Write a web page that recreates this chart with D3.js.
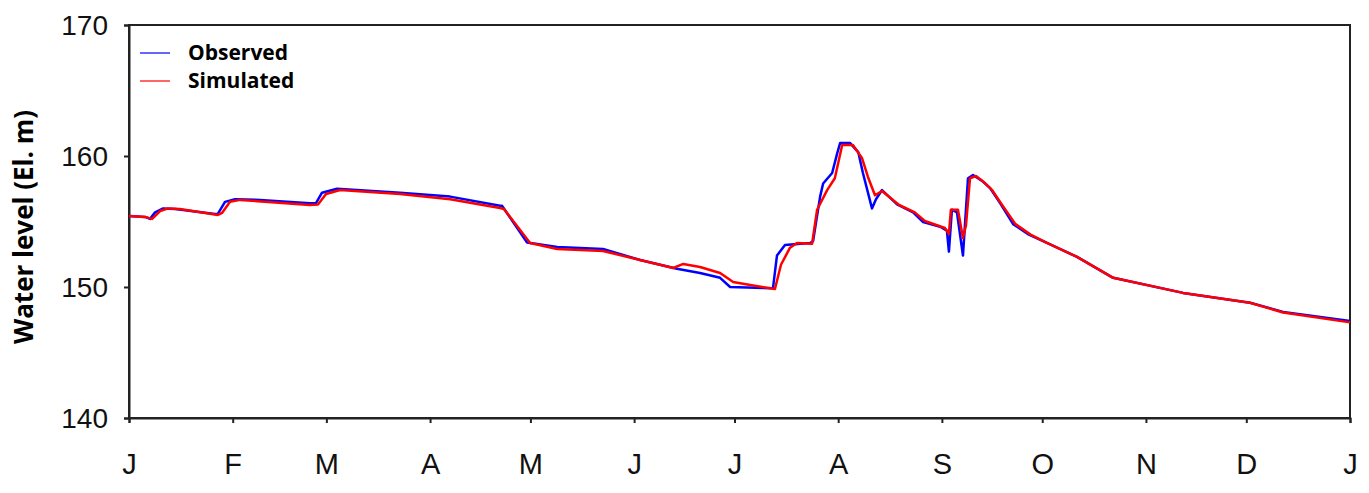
<!DOCTYPE html>
<html>
<head>
<meta charset="utf-8">
<script src="https://cdn.jsdelivr.net/npm/d3@7/dist/d3.min.js"></script>
<style>
    body { margin: 0; background: #fff; }
    .tick text { font-family: "Liberation Sans", Arial, sans-serif; fill: #111; }
    .bold { font-family: "Open Sans", sans-serif; font-weight: bold; }
</style>
</head>
<body>
<div id="content"></div>
<script>
// day of year and water level (El. m)
var obsDay = [0, 4.8, 6.3, 7.8, 10.2, 13.8, 25.7, 26.6, 28.7, 31.7, 39.2, 54.1, 55.9, 57.7, 62.2, 81, 96,
    110.9, 111.5, 119, 128, 141.7, 152.8, 163.8, 170.7, 176.7, 179.7, 192.5, 193.7, 196.1, 203.6,
    204.5, 206.6, 207.5, 210.2, 211.7, 212.6, 215.5, 218, 219.4, 222.1, 223.3, 225.1, 229.6, 234.4,
    237.4, 242.5, 244.5, 245.1, 246, 247.5, 249.3, 250.8, 252.3, 255, 257.4, 260.4, 264.3, 269, 274.4,
    283.4, 294.2, 315.1, 335.1, 345, 365];
var obsLevel = [155.42, 155.35, 155.2, 155.7, 156.0, 155.95, 155.57, 155.6, 156.5, 156.7, 156.65, 156.4,
    156.4, 157.2, 157.5, 157.2, 156.9, 156.2, 156.2, 153.4, 153.05, 152.9, 152.06, 151.4, 151.07, 150.7,
    150.0, 149.9, 152.4, 153.2, 153.36, 153.5, 156.9, 157.9, 158.7, 160.2, 161.0, 161.0, 160.3, 158.7,
    156.0, 156.7, 157.4, 156.3, 155.7, 154.96, 154.6, 154.3, 152.7, 155.9, 155.7, 152.4, 158.3, 158.55,
    158.1, 157.56, 156.4, 154.8, 154.0, 153.36, 152.3, 150.7, 149.55, 148.8, 148.1, 147.4];

var simDay = [0, 4.8, 6.9, 9.3, 11.7, 15.2, 26.6, 27.8, 30.2, 33.2, 54.1, 56.5, 58.9, 63.1, 81, 96,
    110.9, 112.1, 119.9, 128, 141.7, 152.8, 162.7, 165.7, 170.7, 176.7, 180.6, 185.7, 193.1, 194.9,
    197.6, 199.7, 204.2, 205.7, 208.7, 211, 213.2, 216.4, 219.1, 220.9, 223, 225.1, 230.2, 234.9,
    237.9, 243.9, 245.1, 245.7, 247.8, 249.3, 250.2, 251.4, 253.2, 255.6, 258, 261, 265, 269.5, 274.4,
    283.4, 294.2, 315.1, 335.1, 345, 365];
var simLevel = [155.42, 155.35, 155.2, 155.8, 156.0, 155.95, 155.5, 155.65, 156.5, 156.65, 156.26, 156.3,
    157.1, 157.4, 157.1, 156.7, 156.03, 155.95, 153.36, 152.9, 152.75, 152.06, 151.45, 151.76, 151.53,
    151.07, 150.38, 150.15, 149.85, 151.7, 153.0, 153.36, 153.3, 155.9, 157.4, 158.3, 160.84, 160.84,
    159.85, 158.4, 157.0, 157.33, 156.26, 155.7, 155.04, 154.5, 154.05, 155.9, 155.9, 153.74, 154.7,
    158.3, 158.47, 158.0, 157.4, 156.26, 154.8, 154.0, 153.36, 152.3, 150.7, 149.55, 148.8, 148.05, 147.3];

var monthStart = [0, 31, 59, 90, 120, 151, 181, 212, 243, 273, 304, 334, 365];
var monthLabels = ["J", "F", "M", "A", "M", "J", "J", "A", "S", "O", "N", "D", "J"];
var levelTicks = [140, 150, 160, 170];
var seriesNames = ["Observed", "Simulated"];
var seriesColors = ["#0000ff", "#ff0000"];

var margin = { top: 25, right: 19, bottom: 75, left: 129 };
var fullWidth = 1369, fullHeight = 493;
var width = fullWidth - margin.left - margin.right;
var height = fullHeight - margin.top - margin.bottom;

var svg = d3.select("#content").append("svg")
    .attr("width", fullWidth)
    .attr("height", fullHeight);
var g = svg.append("g")
    .attr("transform", "translate(" + margin.left + "," + margin.top + ")");

var x = d3.scaleLinear().domain([0, 365]).range([0, width]);
var y = d3.scaleLinear().domain([140, 170]).range([height, 0]);

var xAxis = d3.axisBottom(x).tickValues(monthStart)
    .tickFormat(function (d, i) { return monthLabels[i]; })
    .tickSize(5).tickPadding(30);
var yAxis = d3.axisLeft(y).tickValues(levelTicks).tickFormat(d3.format("d"))
    .tickSize(5).tickPadding(16);

// frame
g.append("rect")
    .attr("width", width).attr("height", height)
    .attr("fill", "none").attr("stroke", "#222").attr("stroke-width", 2);

g.append("g")
    .attr("transform", "translate(0," + height + ")")
    .call(xAxis)
    .call(function (a) {
        a.select(".domain").attr("stroke", "#222").attr("stroke-width", 2);
        a.selectAll(".tick line").attr("stroke", "#222").attr("stroke-width", 2);
        a.selectAll(".tick text").style("font-size", "29px");
    });

g.append("g")
    .call(yAxis)
    .call(function (a) {
        a.select(".domain").attr("stroke", "#222").attr("stroke-width", 2);
        a.selectAll(".tick line").attr("stroke", "#222").attr("stroke-width", 2);
        a.selectAll(".tick text").style("font-size", "28px").attr("dy", "0.35em");
    });

svg.append("text")
    .attr("class", "bold")
    .attr("transform", "translate(23," + (margin.top + 202) + ") rotate(-90)")
    .attr("text-anchor", "middle")
    .attr("dominant-baseline", "central")
    .style("font-size", "26px")
    .text("Water level (El. m)");

var line = d3.line()
    .x(function (d) { return x(d[0]); })
    .y(function (d) { return y(d[1]); });

var series = [d3.zip(obsDay, obsLevel), d3.zip(simDay, simLevel)];
series.forEach(function (s, i) {
    g.append("path")
        .datum(s)
        .attr("fill", "none")
        .attr("stroke", seriesColors[i])
        .attr("stroke-width", 2.5)
        .attr("stroke-linejoin", "round")
        .attr("d", line);
});

// legend
var legend = g.selectAll(".legend")
    .data(seriesNames)
    .enter().append("g")
    .attr("transform", function (d, i) { return "translate(11," + (28 + i * 28) + ")"; });
legend.append("line")
    .attr("x1", 0).attr("x2", 30)
    .attr("stroke", function (d, i) { return seriesColors[i]; })
    .attr("stroke-opacity", 0.6)
    .attr("stroke-width", 2);
legend.append("text")
    .attr("class", "bold")
    .attr("x", 48)
    .attr("dy", "0.35em")
    .style("font-size", "21px")
    .text(function (d) { return d; });
</script>
</body>
</html>
